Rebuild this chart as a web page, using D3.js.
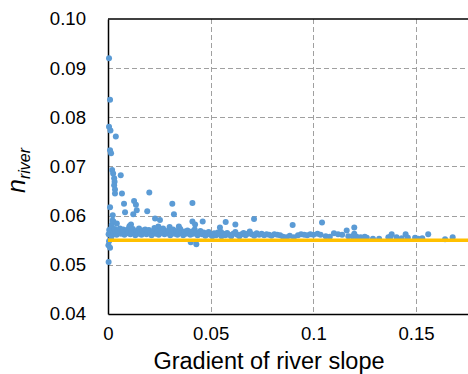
<!DOCTYPE html>
<html>
<head>
<meta charset="utf-8">
<script src="https://cdn.jsdelivr.net/npm/d3@7"></script>
<style>
  html, body { margin: 0; padding: 0; background: #fff; }
  svg { display: block; }
  text { font-family: "Liberation Sans", Arial, sans-serif; fill: #000; }
</style>
</head>
<body>
<svg id="chart" width="468" height="374"></svg>
<script>
// ---- data ----
const xTicks = [0, 0.05, 0.1, 0.15];
const yTicks = [0.04, 0.05, 0.06, 0.07, 0.08, 0.09, 0.10];
const xTickLabels = ["0", "0.05", "0.1", "0.15"];
const yTickLabels = ["0.04", "0.05", "0.06", "0.07", "0.08", "0.09", "0.10"];
const xTitle = "Gradient of river slope";
const fitValue = 0.055;

const slope = [
  0.0005,0.0010,0.0005,0.0012,0.0038,0.0010,0.0015,0.0020,0.0025,0.0062,
  0.0030,0.0032,0.0030,0.0034,0.0034,0.0068,0.0201,0.0127,0.0078,0.0010,
  0.0136,0.0083,0.0123,0.0140,0.0191,0.0023,0.0026,0.0018,0.0313,0.0411,
  0.0321,0.0229,0.0253,0.0411,0.0424,0.0461,0.0573,0.0620,0.0711,0.0545,
  0.0550,0.0899,0.1042,0.1162,0.1199,0.1199,0.1100,0.1381,0.1449,0.1559,
  0.1641,0.1678,0.0002,0.0010,0.0003,0.0403,0.0430,0.0005,0.0015,0.0245,
  0.0105,0.0112,0.0300,0.0345,0.0043,0.0022,
  0.0003,0.0006,0.0012,0.0016,0.0020,0.0024,0.0028,0.0033,0.0038,0.0042,
  0.0047,0.0052,0.0058,0.0063,0.0069,0.0074,0.0080,0.0086,0.0092,0.0097,
  0.0103,0.0109,0.0115,0.0121,0.0127,0.0133,0.0139,0.0145,0.0151,0.0157,
  0.0163,0.0169,0.0175,0.0181,0.0187,0.0193,0.0199,0.0206,0.0212,0.0219,
  0.0226,0.0233,0.0240,0.0247,0.0254,0.0261,0.0268,0.0275,0.0282,0.0289,
  0.0296,0.0303,0.0310,0.0317,0.0324,0.0331,0.0338,0.0345,0.0352,0.0359,
  0.0366,0.0373,0.0380,0.0387,0.0394,0.0401,0.0408,0.0415,0.0422,0.0429,
  0.0436,0.0443,0.0450,0.0458,0.0466,0.0474,0.0482,0.0490,0.0499,0.0508,
  0.0517,0.0526,0.0535,0.0544,0.0553,0.0562,0.0571,0.0580,0.0590,0.0600,
  0.0610,0.0620,0.0630,0.0640,0.0650,0.0660,0.0670,0.0680,0.0690,0.0700,
  0.0712,0.0724,0.0736,0.0748,0.0760,0.0772,0.0784,0.0796,0.0810,0.0824,
  0.0838,0.0852,0.0868,0.0885,0.0905,0.0925,0.0940,0.0955,0.0970,0.0985,
  0.1000,0.1020,0.1035,0.1060,0.1080,0.1120,0.1140,0.1170,0.1190,0.1210,
  0.1260,0.1290,0.1320,0.1365,0.1375,0.1405,0.1430,0.1460,0.1495,0.1510,
  0.1530,0.1230,0.1250
];
const nRiver = [
  0.0920,0.0836,0.0781,0.0773,0.0761,0.0733,0.0727,0.0693,0.0686,0.0682,
  0.0676,0.0669,0.0662,0.0653,0.0645,0.0645,0.0647,0.0630,0.0624,0.0617,
  0.0622,0.0607,0.0603,0.0611,0.0609,0.0601,0.0588,0.0581,0.0624,0.0626,
  0.0603,0.0594,0.0591,0.0588,0.0582,0.0588,0.0587,0.0582,0.0593,0.0576,
  0.0567,0.0581,0.0586,0.0570,0.0576,0.0563,0.0564,0.0562,0.0562,0.0562,
  0.0552,0.0556,0.0540,0.0535,0.0506,0.0546,0.0542,0.0548,0.0552,0.0578,
  0.0579,0.0582,0.0577,0.0578,0.0584,0.0590,
  0.0562,0.0571,0.0566,0.0575,0.0560,0.0569,0.0564,0.0573,0.0567,0.0561,
  0.0570,0.0565,0.0574,0.0563,0.0568,0.0572,0.0561,0.0566,0.0571,0.0564,
  0.0576,0.0562,0.0568,0.0573,0.0565,0.0560,0.0569,0.0563,0.0574,0.0566,
  0.0561,0.0570,0.0565,0.0572,0.0562,0.0567,0.0571,0.0564,0.0560,0.0569,
  0.0575,0.0563,0.0567,0.0561,0.0570,0.0565,0.0574,0.0562,0.0568,0.0564,
  0.0571,0.0560,0.0566,0.0572,0.0563,0.0569,0.0561,0.0566,0.0573,0.0564,
  0.0560,0.0568,0.0563,0.0570,0.0565,0.0561,0.0568,0.0563,0.0572,0.0566,
  0.0560,0.0564,0.0569,0.0562,0.0566,0.0559,0.0563,0.0567,0.0561,0.0558,
  0.0564,0.0560,0.0566,0.0562,0.0558,0.0563,0.0560,0.0565,0.0561,0.0558,
  0.0563,0.0567,0.0561,0.0558,0.0562,0.0565,0.0560,0.0563,0.0568,0.0562,
  0.0559,0.0564,0.0561,0.0563,0.0560,0.0562,0.0561,0.0559,0.0562,0.0561,
  0.0560,0.0557,0.0556,0.0559,0.0556,0.0560,0.0562,0.0561,0.0560,0.0562,
  0.0561,0.0563,0.0561,0.0558,0.0557,0.0562,0.0561,0.0558,0.0558,0.0557,
  0.0555,0.0553,0.0553,0.0556,0.0557,0.0556,0.0554,0.0555,0.0555,0.0553,
  0.0554,0.0556,0.0557
];

// ---- layout ----
const W = 468, H = 374;
const plot = { left: 108, top: 19, right: 468, bottom: 314 };
const xMax = (plot.right - plot.left) / 2054;

const x = d3.scaleLinear().domain([0, xMax]).range([plot.left, plot.right]);
const y = d3.scaleLinear().domain([0.04, 0.10]).range([plot.bottom, plot.top]);

const svg = d3.select("#chart");

// gridlines
const grid = svg.append("g").attr("stroke", "#A0A0A0").attr("stroke-width", 1)
  .attr("stroke-dasharray", "5,3").attr("fill", "none");
grid.selectAll("line.h").data(yTicks.filter(v => v > 0.04 && v < 0.10)).enter()
  .append("line").attr("class", "h")
  .attr("x1", plot.left).attr("x2", plot.right)
  .attr("y1", d => Math.round(y(d)) + 0.5).attr("y2", d => Math.round(y(d)) + 0.5);
grid.selectAll("line.v").data(xTicks.filter(v => v > 0)).enter()
  .append("line").attr("class", "v")
  .attr("y1", plot.top).attr("y2", plot.bottom)
  .attr("x1", d => Math.round(x(d)) + 0.5).attr("x2", d => Math.round(x(d)) + 0.5);

// axes frame (left, bottom, top)
const yAxis = d3.axisLeft(y).tickValues(yTicks).tickSize(0)
  .tickFormat((d, i) => yTickLabels[i]).tickPadding(22);
const gy = svg.append("g").attr("transform", `translate(${plot.left},0)`).call(yAxis);
gy.select(".domain").attr("stroke", "#000").attr("stroke-width", 1.5);
gy.selectAll("text").attr("font-size", "18.6px")
  .attr("font-family", "'Liberation Sans', Arial, sans-serif").attr("fill", "#000");

const xAxis = d3.axisBottom(x).tickValues(xTicks).tickSize(0)
  .tickFormat((d, i) => xTickLabels[i]).tickPadding(13);
const gx = svg.append("g").attr("transform", `translate(0,${plot.bottom})`).call(xAxis);
gx.select(".domain").attr("stroke", "#000").attr("stroke-width", 1.5);
gx.selectAll("text").attr("font-size", "18.6px")
  .attr("font-family", "'Liberation Sans', Arial, sans-serif").attr("fill", "#000");

svg.append("line").attr("x1", plot.left).attr("x2", plot.right)
  .attr("y1", plot.top).attr("y2", plot.top)
  .attr("stroke", "#000").attr("stroke-width", 1.5);

// points
const pts = slope.map((s, i) => ({ s, n: nRiver[i] }));
svg.append("g").selectAll("circle").data(pts).enter().append("circle")
  .attr("cx", d => x(d.s)).attr("cy", d => y(d.n)).attr("r", 3)
  .attr("fill", "#5B9BD5");

// fitted constant line
svg.append("line")
  .attr("x1", x(0)).attr("x2", x(xMax))
  .attr("y1", y(fitValue)).attr("y2", y(fitValue))
  .attr("stroke", "#FFC000").attr("stroke-width", 3.5);

// axis titles
svg.append("text").attr("x", (plot.left + 430) / 2).attr("y", 368.5)
  .attr("text-anchor", "middle").attr("font-size", "23.5px").text(xTitle);

const yt = svg.append("text")
  .attr("transform", `translate(25,${(plot.top + plot.bottom) / 2 + 4}) rotate(-90)`)
  .attr("text-anchor", "middle").attr("font-style", "italic");
yt.append("tspan").attr("font-size", "25px").text("n");
yt.append("tspan").attr("font-size", "16px").attr("dy", 5).text("river");
</script>
</body>
</html>
